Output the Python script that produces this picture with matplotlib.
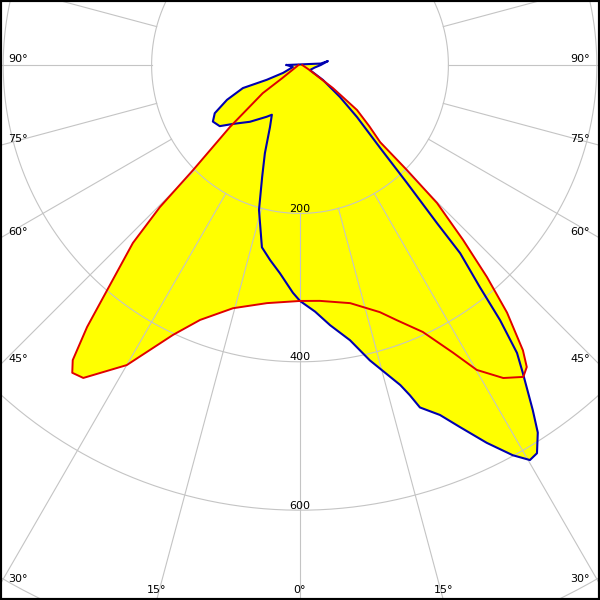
import numpy as np
import matplotlib.pyplot as plt

red_c0_gamma = [0, 4.8, 11.9, 17.9, 20.8, 24.7, 28, 30.1, 33, 35.6, 36.9, 38, 39.9, 41.4, 43, 44.8,
                45.5, 46.1, 48.5, 51.7, 55, 62, 90]
red_c0_cd = [318, 319, 328, 350, 368, 396, 439, 475, 503, 517, 509, 488, 435, 381, 322, 262,
             202, 150, 125, 98, 54, 15, 3]
red_c180_gamma = [0, 7.9, 15.4, 21.4, 25.2, 30, 34.7, 36.5, 37.6, 39.1, 40.6, 43.2, 44.6, 45.5,
                  48.5, 52.9, 53.5, 60, 90]
red_c180_cd = [318, 324, 340, 369, 402, 467, 513, 516, 502, 455, 399, 329, 269, 202,
               126, 63, 30, 8, 2]

blue_c90_gamma = [0, 3.5, 6.6, 10.3, 13.3, 17.4, 18.4, 19.3, 21.8, 23.8, 26.3, 28.6, 30.2, 31.4,
                  32.9, 34, 35.9, 37, 38.1, 39, 40.4, 40.9, 42.2, 44, 47.6, 51.3, 56.9, 63, 80,
                  90, 98, 94]
blue_c90_cd = [318, 333, 353, 377, 409, 452, 469, 489, 508, 533, 568, 599, 616, 613,
               590, 561, 512, 486, 437, 385, 333, 282, 215, 156, 104, 69, 37, 15, 20,
               28, 38, 28]
blue_c270_gamma = [0, 1.8, 5.5, 8.7, 11.8, 15.8, 18.7, 21.7, 25.8, 29.5, 32.8, 41.4, 48.6, 52.7,
                   57, 60.5, 64.5, 68, 66, 65, 74, 90]
blue_c270_cd = [318, 307, 282, 266, 251, 203, 159, 128, 93, 77, 83, 102, 120, 136,
                140, 132, 109, 83, 49, 25, 10, 18]

rings = [200, 400, 600, 800, 1000]
ring_labels = [200, 400, 600]

PX = 0.742  # pixels per cd


def half_plane(gamma, cd, side):
    g = np.radians(gamma)
    cd = np.array(cd, dtype=float)
    return side * cd * np.sin(g), -cd * np.cos(g)


def plane(gamma_r, cd_r, gamma_l, cd_l):
    xl, yl = half_plane(gamma_l, cd_l, -1)
    xr, yr = half_plane(gamma_r, cd_r, 1)
    return np.concatenate([xl[::-1], xr]), np.concatenate([yl[::-1], yr])


fig = plt.figure(figsize=(6, 6), dpi=100)
ax = fig.add_axes([0, 0, 1, 1])
ax.set_xlim(-300 / PX, 300 / PX)
ax.set_ylim(-535 / PX, 65 / PX)
ax.set_xticks([])
ax.set_yticks([])
for s in ax.spines.values():
    s.set_linewidth(3)
    s.set_color('black')

rx, ry = plane(red_c0_gamma, red_c0_cd, red_c180_gamma, red_c180_cd)
bx, by = plane(blue_c90_gamma, blue_c90_cd, blue_c270_gamma, blue_c270_cd)

ax.fill(rx, ry, color='#ffff00', lw=0, zorder=1)
ax.fill(bx, by, color='#ffff00', lw=0, zorder=1)

# grid
t = np.linspace(0, 2 * np.pi, 500)
for r in rings:
    ax.plot(r * np.sin(t), r * np.cos(t), color='#c4c4c4', lw=0.8, zorder=2)
for a in range(0, 360, 15):
    ar = np.radians(a)
    ax.plot([200 * np.sin(ar), 1200 * np.sin(ar)], [-200 * np.cos(ar), -1200 * np.cos(ar)],
            color='#c4c4c4', lw=0.8, zorder=2)

ax.plot(np.append(bx, bx[0]), np.append(by, by[0]), color='#0000b0', lw=1.5, zorder=3)
ax.plot(rx, ry, color='#e00000', lw=1.4, zorder=4)

for r in ring_labels:
    ax.annotate(str(r), (0, -r), xytext=(0, 1.2), textcoords='offset points',
                ha='center', va='baseline', fontsize=8, zorder=5)

# angle labels where the spokes leave the frame
for a in [90, 75, 60, 45, 30]:
    ar = np.radians(a)
    yd = -(300 / np.sin(ar)) * np.cos(ar) / PX
    ax.annotate(f'{a}°', (-300 / PX, yd), xytext=(5.8, 2.2), textcoords='offset points',
                ha='left', va='baseline', fontsize=8, zorder=5)
    ax.annotate(f'{a}°', (300 / PX, yd), xytext=(-7.5, 2.2), textcoords='offset points',
                ha='right', va='baseline', fontsize=8, zorder=5)
for a in [-15, 0, 15]:
    xd = 535 * np.tan(np.radians(a)) / PX
    ax.annotate(f'{abs(a)}°', (xd, -535 / PX), xytext=(0, 5), textcoords='offset points',
                ha='center', va='baseline', fontsize=8, zorder=5)

fig.savefig('out.png', dpi=100)
